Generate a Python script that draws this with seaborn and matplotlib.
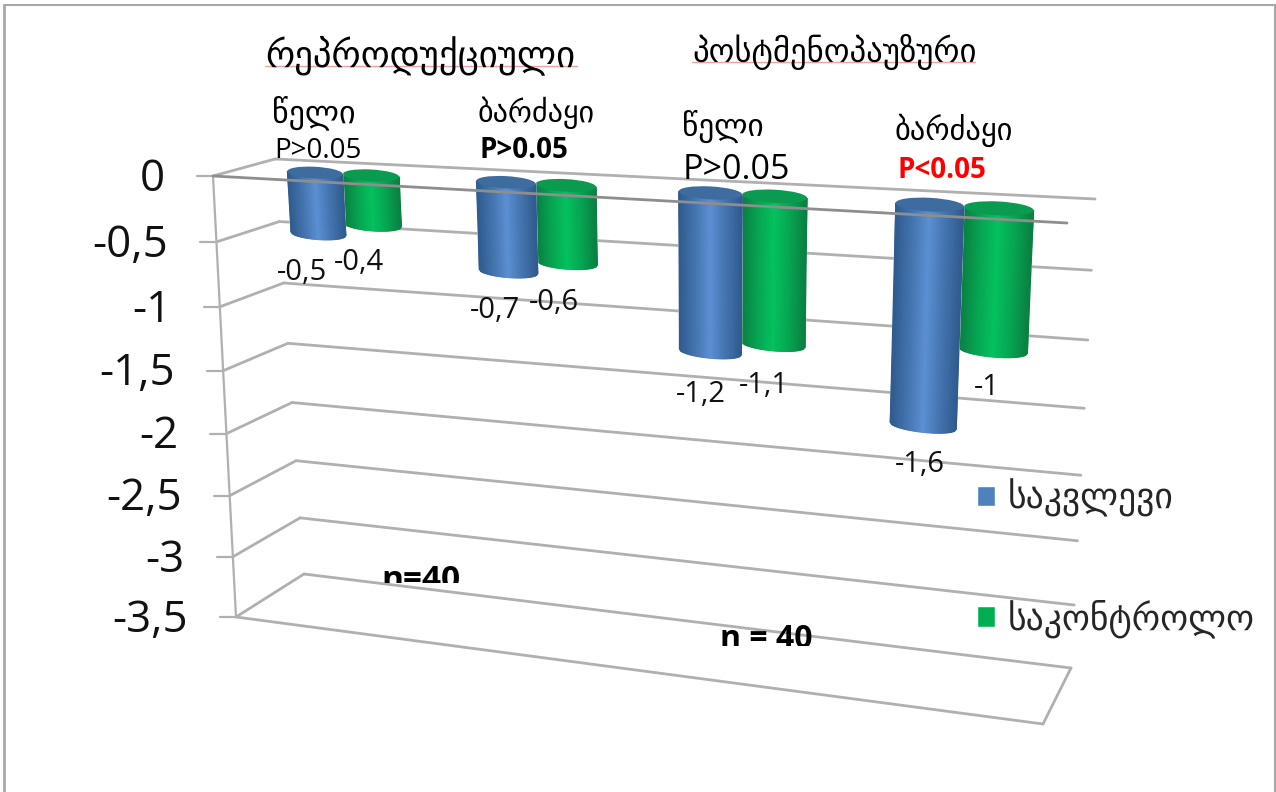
import numpy as np
import pandas as pd
import matplotlib
matplotlib.use("Agg")
import matplotlib.pyplot as plt
import seaborn as sns
from matplotlib.colors import LinearSegmentedColormap
from matplotlib.patches import Ellipse, Rectangle
from matplotlib.transforms import Bbox, Transform

W, H = 1276, 792

# data
group_pos = [0, 1, 2, 3]
study = [-0.5, -0.7, -1.2, -1.6]
control = [-0.4, -0.6, -1.1, -1.0]
series_names = ["საკვლევი", "საკონტროლო"]
y_ticks = [0, -0.5, -1, -1.5, -2, -2.5, -3, -3.5]
tick_labels = ["0", "-0,5", "-1", "-1,5", "-2", "-2,5", "-3", "-3,5"]

# nudges of the value labels below each bar, in pixels
label_dx = [[-16, -13.5, -9.5, -3], [-14, -13, -9.5, -6]]
label_dy = [[-39, -39, -42, -39], [-37, -39, -41, -37]]


# maps the unit square of the axes onto a quad given in image pixels
class Projection(Transform):
    input_dims = 2
    output_dims = 2
    is_affine = False

    def __init__(self, tl, tr, br, bl):
        super().__init__()
        src = [(0, 1), (1, 1), (1, 0), (0, 0)]
        dst = [(p[0], H - p[1]) for p in (tl, tr, br, bl)]
        A, b = [], []
        for (u, v), (x, y) in zip(src, dst):
            A.append([u, v, 1, 0, 0, 0, -u * x, -v * x])
            A.append([0, 0, 0, u, v, 1, -u * y, -v * y])
            b += [x, y]
        self.m = np.append(np.linalg.solve(np.array(A, float), np.array(b, float)), 1).reshape(3, 3)

    def transform_non_affine(self, values):
        values = np.asarray(values, float)
        pts = np.column_stack([values, np.ones(len(values))]) @ self.m.T
        return pts[:, :2] / pts[:, 2:]


# horizontal position from one quad, vertical from another: the bars foreshorten
# less across the chart than their heights do
class MixedProjection(Transform):
    input_dims = 2
    output_dims = 2
    is_affine = False

    def __init__(self, for_x, for_y):
        super().__init__()
        self.for_x = for_x
        self.for_y = for_y

    def transform_non_affine(self, values):
        return np.column_stack([self.for_x.transform_non_affine(values)[:, 0],
                                self.for_y.transform_non_affine(values)[:, 1]])


back_quad = [(275, 159), (1095, 199), (1071, 668), (304, 574)]
front_quad = [(213, 176), (1067, 223), (1043, 724), (236, 617)]
# bars stand between back wall and front edge
mid_quad_x = [(251, 169.5), (1081, 213), (1057, 698), (277, 597.5)]
mid_quad_y = [(251, 169.5), (1082, 213), (1058, 696), (275, 572)]

sns.set_theme(style="white")
plt.rcParams["font.family"] = ["Open Sans", "DejaVu Sans"]

fig = plt.figure(figsize=(W / 100, H / 100), dpi=100)
ax = fig.add_axes([0, 0, 1, 1])

df = pd.DataFrame({
    "group": group_pos * 2,
    "value": study + control,
    "series": [series_names[0]] * 4 + [series_names[1]] * 4,
})
sns.barplot(data=df, x="group", y="value", hue="series", ax=ax, width=0.6, native_scale=True,
            palette=["#4F81BD", "#00B050"], errorbar=None, saturation=1)
ax.set_xlim(-0.5, 3.5)
ax.set_ylim(-3.5, 0)
ax.autoscale(False)
ax.set_axis_off()

to_unit = ax.transData + ax.transAxes.inverted()
t_back = to_unit + Projection(*back_quad)
t_front = to_unit + Projection(*front_quad)
t_mid = to_unit + MixedProjection(Projection(*mid_quad_x), Projection(*mid_quad_y))

grid_color = "#B0B0B0"
x0, x1 = -0.5, 3.5

# back wall and side wall lines
for v, txt in zip(y_ticks, tick_labels):
    ax.plot([x0, x1], [v, v], color=grid_color, lw=2, transform=t_back, clip_on=False, zorder=1)
    a = t_front.transform((x0, v))
    b = t_back.transform((x0, v))
    ax.plot([a[0] / W, b[0] / W], [a[1] / H, b[1] / H], color=grid_color, lw=2,
            transform=ax.transAxes, clip_on=False, zorder=1)
    # tick mark on the front edge
    ax.plot([(a[0] - 16) / W, a[0] / W], [a[1] / H, a[1] / H], color=grid_color, lw=1.6,
            transform=ax.transAxes, clip_on=False, zorder=1)
    fig.text((a[0] - 48) / W, (a[1] + 2) / H, txt, fontsize=31.5, ha="right", va="center_baseline", color="#111111")

# floor outline and vertical axis
ax.plot([x0, x1], [-3.5, -3.5], color=grid_color, lw=2, transform=t_front, clip_on=False, zorder=1)
ax.plot([x0, x0], [0, -3.5], color=grid_color, lw=1.6, transform=t_front, clip_on=False, zorder=1)
a = t_front.transform((x1, -3.5))
b = t_back.transform((x1, -3.5))
ax.plot([a[0] / W, b[0] / W], [a[1] / H, b[1] / H], color=grid_color, lw=2,
        transform=ax.transAxes, clip_on=False, zorder=1)

# cylinders
blues = LinearSegmentedColormap.from_list("b", ["#2F5B8E", "#4474AE", "#5C90D4", "#4474AE", "#2F5B8E"])
greens = LinearSegmentedColormap.from_list("g", ["#0A7F41", "#06A552", "#04C25F", "#06A552", "#0A7F41"])
cap_colors = ["#3F6C9F", "#0A9A50"]
ry = 0.048

for i, container in enumerate(ax.containers):
    cmap = [blues, greens][i]
    z = 5 - i * 2
    for j, bar in enumerate(container):
        bar.set_transform(t_mid)
        bar.set_clip_on(False)
        bar.set_zorder(z)
        left, w, val = bar.get_x(), bar.get_width(), bar.get_height()
        cx = left + w / 2
        u = np.linspace(-1, 1, 41)
        sag = ry * np.sqrt(1 - u ** 2)
        xs = cx + u * w / 2
        X = np.vstack([xs, xs])
        Y = np.vstack([-sag, val - sag])
        C = np.vstack([(u + 1) / 2, (u + 1) / 2])
        ax.pcolormesh(X, Y, C, cmap=cmap, shading="gouraud", vmin=0, vmax=1,
                      transform=t_mid, clip_on=False, zorder=z)
        ax.add_patch(Ellipse((cx, 0), w, 2 * ry, fc=cap_colors[i], ec="none",
                             transform=t_mid, clip_on=False, zorder=z))
        ax.annotate(f"{val:g}".replace(".", ","), xy=(cx, val), xycoords=t_mid,
                    xytext=(label_dx[i][j], label_dy[i][j]),
                    textcoords="offset pixels", ha="center", va="center", fontsize=21,
                    color="#111111", zorder=9)

# front top edge passes over the bars
ax.plot([x0, x1], [0, 0], color="#8E8E8E", lw=2, transform=t_front, clip_on=False, zorder=8)


def label(x, y, s, size, va="baseline", color="black", **kw):
    return fig.text(x / W, 1 - y / H, s, fontsize=size, ha="left", va=va, color=color, **kw)


label(265, 66, "რეპროდუქციული", 26.5)
label(692, 62, "პოსტმენოპაუზური", 23.6)
label(272, 122, "წელი", 23)
label(478, 122, "ბარძაყი", 21.7)
label(682, 137, "წელი", 22.6)
label(895, 140, "ბარძაყი", 22)
label(274, 151, "P>0.05", 20, va="center")
label(479, 151, "P>0.05", 20, va="center", fontweight="bold")
label(683, 170, "P>0.05", 24.5, va="center")
label(897, 170, "P<0.05", 20, va="center", fontweight="bold", color="red")

for x_a, x_b, y in [(265, 577, 66), (692, 975, 62)]:
    fig.add_artist(plt.Line2D([x_a / W, x_b / W], [1 - y / H, 1 - y / H], color="#F4A0A0", lw=1))

# clipped text boxes from the original
n1 = label(381, 589, "n=40", 24, fontweight="bold")
n1.set_clip_box(Bbox([[300, H - 583], [500, H - 550]]))
n1.set_clip_on(True)
n2 = label(720, 648, "n = 40", 23, fontweight="bold")
n2.set_clip_box(Bbox([[700, H - 646], [850, H - 610]]))
n2.set_clip_on(True)

leg = ax.get_legend()
if leg is not None:
    leg.remove()
handles = [Rectangle((0, 0), 1, 1, fc=c) for c in ["#4F81BD", "#00B050"]]
fig.legend(handles, series_names, loc="upper left", bbox_to_anchor=(977 / W, 1 - 479 / H),
           frameon=False, fontsize=25.7, labelspacing=2.3, handlelength=0.5, handleheight=0.5,
           handletextpad=0.36, borderpad=0, borderaxespad=0)

# sheet edge of the screenshot
frame = "#A8A8A8"
fig.add_artist(plt.Line2D([3.5 / W, 3.5 / W], [0, 1 - 5 / H], color=frame, lw=2))
fig.add_artist(plt.Line2D([3.5 / W, 1], [1 - 5 / H, 1 - 5 / H], color=frame, lw=1.5))
fig.add_artist(plt.Line2D([1275 / W, 1275 / W], [0, 1 - 5 / H], color=frame, lw=1.5))

fig.savefig("out.png", dpi=100)
